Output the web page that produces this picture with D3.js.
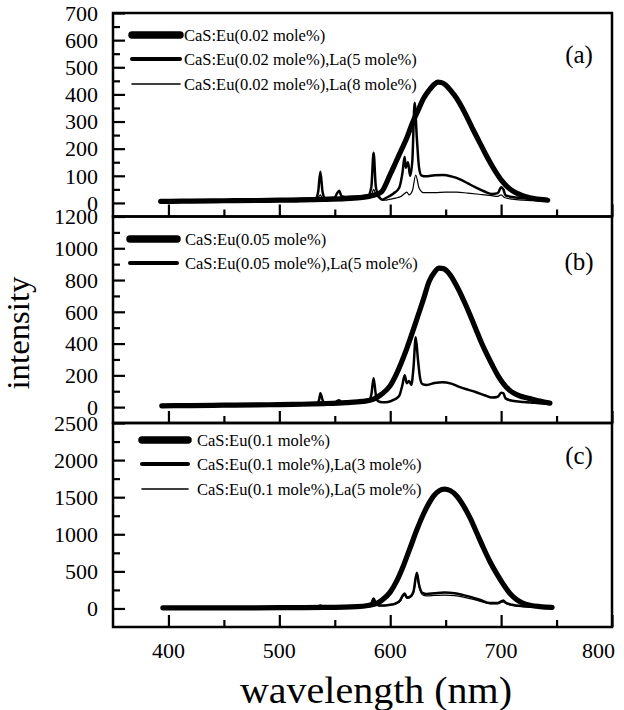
<!DOCTYPE html>
<html>
<head>
<meta charset="utf-8">
<script src="https://cdn.jsdelivr.net/npm/d3@7"></script>
<style>
html,body{margin:0;padding:0;background:#fff;}
svg{display:block;}
</style>
</head>
<body>
<svg id="chart" width="624" height="710"></svg>
<script>
// ---------- DATA ----------
const xTicks = [400, 500, 600, 700, 800];
const xMinor = [450, 550, 650, 750];

const aTicks = [0, 100, 200, 300, 400, 500, 600, 700];
const bTicks = [0, 200, 400, 600, 800, 1000, 1200];
const cTicks = [0, 500, 1000, 1500, 2000, 2500];

const aLabels = ["CaS:Eu(0.02 mole%)", "CaS:Eu(0.02 mole%),La(5 mole%)", "CaS:Eu(0.02 mole%),La(8 mole%)"];
const bLabels = ["CaS:Eu(0.05 mole%)", "CaS:Eu(0.05 mole%),La(5 mole%)"];
const cLabels = ["CaS:Eu(0.1 mole%)", "CaS:Eu(0.1 mole%),La(3 mole%)", "CaS:Eu(0.1 mole%),La(5 mole%)"];

// [wavelength nm, intensity]
const a1 = [[393,6],[400,6],[420,7],[450,8],[480,9],[500,10],[520,11],[540,13],[560,16],[575,20],[585,28],[592,40],[600,105],[605,150],[610,195],[615,240],[620,295],[625,340],[630,385],[635,415],[640,438],[643,445],[646,444],[650,435],[655,412],[660,385],[665,350],[670,310],[675,268],[680,228],[685,188],[690,150],[695,115],[700,85],[705,62],[710,45],[715,34],[720,26],[725,20],[730,16],[735,13],[742,10]];
const a2 = [[393,8],[420,9],[450,10],[480,12],[500,13],[520,15],[533,17],[535,40],[537,115],[539,40],[541,18],[550,20],[552,35],[554,45],[556,25],[560,22],[570,24],[580,27],[583,60],[585,185],[587,60],[589,30],[593,12],[597,20],[603,35],[608,55],[611,110],[613,170],[614,130],[616,150],[618,100],[620,160],[622,369],[624,240],[626,130],[628,102],[632,98],[640,102],[648,103],[655,98],[663,87],[670,72],[677,57],[685,42],[692,33],[697,36],[700,58],[702,50],[704,28],[710,22],[720,17],[730,13],[742,10]];
const a3 = [[393,6],[450,8],[500,10],[530,13],[535,20],[537,30],[539,16],[545,14],[560,16],[575,18],[583,30],[585,50],[587,30],[590,18],[595,10],[600,14],[605,18],[610,25],[613,35],[615,40],[617,30],[620,45],[623,103],[626,55],[630,38],[640,38],[650,40],[660,40],[670,36],[680,32],[690,28],[697,24],[700,30],[703,20],[710,14],[720,10],[730,8],[742,6]];

const b1 = [[394,8],[420,10],[450,12],[480,14],[500,16],[520,18],[540,22],[560,28],[575,36],[585,50],[592,80],[600,135],[605,200],[610,280],[615,370],[620,470],[625,575],[630,680],[635,790],[640,850],[644,875],[648,872],[652,850],[657,800],[662,735],[667,660],[672,580],[677,495],[682,410],[687,335],[692,265],[697,200],[702,148],[707,110],[712,85],[717,70],[722,60],[728,50],[735,38],[744,25]];
const b2 = [[394,10],[420,12],[450,14],[480,16],[500,18],[520,20],[534,22],[536,50],[537,88],[539,45],[541,24],[550,26],[552,38],[554,44],[556,30],[560,28],[570,30],[580,34],[583,80],[585,182],[587,80],[589,38],[593,30],[598,32],[603,45],[608,70],[611,140],[613,201],[615,150],[617,165],[619,140],[621,250],[623,440],[625,300],[627,180],[629,145],[633,140],[640,152],[647,157],[655,148],[663,126],[670,110],[677,95],[685,75],[692,60],[697,65],[700,90],[702,88],[704,55],[710,40],[720,32],[730,27],[744,20]];

const c1 = [[395,8],[450,8],[500,10],[540,14],[570,25],[580,40],[588,67],[592,105],[600,220],[606,375],[612,580],[618,818],[624,1060],[630,1273],[635,1420],[639,1515],[644,1585],[649,1608],[654,1590],[660,1515],[666,1385],[672,1220],[678,1020],[684,818],[690,630],[696,469],[702,325],[708,201],[714,120],[720,70],[727,40],[735,25],[746,15]];
const c2 = [[395,10],[450,12],[500,15],[530,18],[535,25],[537,40],[539,22],[550,22],[570,28],[580,35],[583,70],[585,134],[587,70],[590,40],[595,40],[600,50],[605,70],[609,110],[611,170],[613,200],[615,150],[618,160],[621,230],[624,480],[626,320],[629,210],[633,195],[640,205],[649,215],[658,205],[666,180],[674,150],[682,110],[690,75],[697,75],[700,95],[702,107],[704,80],[710,50],[720,30],[730,22],[746,15]];
const c3 = [[395,8],[450,10],[500,13],[530,16],[535,22],[537,30],[540,17],[570,25],[580,32],[583,60],[585,100],[587,55],[590,35],[600,45],[605,62],[609,100],[611,150],[613,180],[615,135],[618,145],[621,210],[624,430],[626,290],[629,185],[633,170],[640,175],[649,180],[658,172],[666,152],[674,125],[682,92],[690,62],[697,62],[700,80],[702,90],[705,60],[710,40],[720,25],[730,18],[746,12]];

// ---------- LAYOUT ----------
const FONT = "'Liberation Serif', Tinos, 'Times New Roman', Times, 'Nimbus Roman', 'DejaVu Serif', serif";
const svg = d3.select("#chart").attr("font-family", FONT);
const L = 113, R = 612;
const x = d3.scaleLinear().domain([350, 800]).range([L, R]);
const widths = [5.2, 2.5, 1.2];
const legW = [7.5, 4, 1.6];

const panels = [
  {top: 13, bottom: 216.5, domain: [-50, 700], ticks: aTicks, step: 100, series: [a1, a2, a3], labels: aLabels,
   leg: {x1: 132, x2: 180, tx: 184, ys: [35, 59, 84]}, tag: "(a)", tagY: 63},
  {top: 216.5, bottom: 423, domain: [-100, 1200], ticks: bTicks, step: 200, series: [b1, b2], labels: bLabels,
   leg: {x1: 130, x2: 177, tx: 185, ys: [239, 263]}, tag: "(b)", tagY: 270},
  {top: 423, bottom: 627, domain: [-250, 2500], ticks: cTicks, step: 500, series: [c1, c2, c3], labels: cLabels,
   leg: {x1: 142, x2: 188, tx: 197, ys: [440, 464, 489]}, tag: "(c)", tagY: 464}
];

function txt(sel) { return sel.attr("font-family", FONT).attr("fill", "#000"); }

panels.forEach((p, i) => {
  const y = d3.scaleLinear().domain(p.domain).range([p.bottom, p.top]);
  const g = svg.append("g");

  // curves
  const line = d3.line().x(d => x(d[0])).y(d => y(d[1])).curve(d3.curveMonotoneX);
  p.series.forEach((s, k) => {
    g.append("path").datum(s).attr("d", line)
      .attr("fill", "none").attr("stroke", "#000")
      .attr("stroke-width", widths[k]).attr("stroke-linejoin", "round").attr("stroke-linecap", "round");
  });

  // y ticks (inward) major + minor
  const yMinor = p.ticks.map(t => t + p.step / 2).filter(t => t < p.domain[1]);
  const yAxis = d3.axisRight(y).tickValues(p.ticks).tickSize(12).tickFormat("");
  const yAxisMinor = d3.axisRight(y).tickValues(yMinor).tickSize(7).tickFormat("");
  [yAxis, yAxisMinor].forEach(ax => {
    const ga = g.append("g").attr("transform", `translate(${L},0)`).call(ax);
    ga.select(".domain").remove();
    ga.selectAll("line").attr("stroke", "#000").attr("stroke-width", 2.2);
  });
  // y tick labels
  txt(g.selectAll(null).data(p.ticks).enter().append("text"))
    .attr("x", 98).attr("y", d => y(d)).attr("dy", "0.35em")
    .attr("text-anchor", "end").attr("font-size", 22).text(d => d);

  // x ticks (inward from bottom)
  const xAxis = d3.axisTop(x).tickValues(xTicks).tickSize(12).tickFormat("");
  const xAxisMinor = d3.axisTop(x).tickValues(xMinor).tickSize(7).tickFormat("");
  [xAxis, xAxisMinor].forEach(ax => {
    const ga = g.append("g").attr("transform", `translate(0,${p.bottom})`).call(ax);
    ga.select(".domain").remove();
    ga.selectAll("line").attr("stroke", "#000").attr("stroke-width", 2.2);
  });

  // frame
  g.append("rect").attr("x", L).attr("y", p.top).attr("width", R - L).attr("height", p.bottom - p.top)
    .attr("fill", "none").attr("stroke", "#000").attr("stroke-width", 2.5);

  // legend
  p.labels.forEach((lab, k) => {
    const ly = p.leg.ys[k];
    g.append("line").attr("x1", p.leg.x1).attr("x2", p.leg.x2).attr("y1", ly).attr("y2", ly)
      .attr("stroke", "#000").attr("stroke-width", legW[k]).attr("stroke-linecap", "round");
    txt(g.append("text")).attr("x", p.leg.tx).attr("y", ly).attr("dy", "0.35em")
      .attr("font-size", 16.5).text(lab);
  });

  // panel tag
  txt(g.append("text")).attr("x", 579).attr("y", p.tagY).attr("text-anchor", "middle")
    .attr("font-size", 25).text(p.tag);
});

// x tick labels (bottom panel only); the last one sits inside the picture edge
const xMax = d3.max(xTicks);
txt(svg.selectAll(null).data(xTicks).enter().append("text"))
  .attr("x", d => d === xMax ? x(d) + 3 : x(d)).attr("y", 658)
  .attr("text-anchor", d => d === xMax ? "end" : "middle")
  .attr("font-size", 22).text(d => d);

// axis titles
txt(svg.append("text")).attr("x", 376).attr("y", 703).attr("text-anchor", "middle")
  .attr("font-size", 37).attr("textLength", 272).attr("lengthAdjust", "spacingAndGlyphs")
  .text("wavelength (nm)");
txt(svg.append("text")).attr("transform", "translate(29,333) rotate(-90)").attr("text-anchor", "middle")
  .attr("font-size", 31).attr("textLength", 113).attr("lengthAdjust", "spacingAndGlyphs")
  .text("intensity");
</script>
</body>
</html>
